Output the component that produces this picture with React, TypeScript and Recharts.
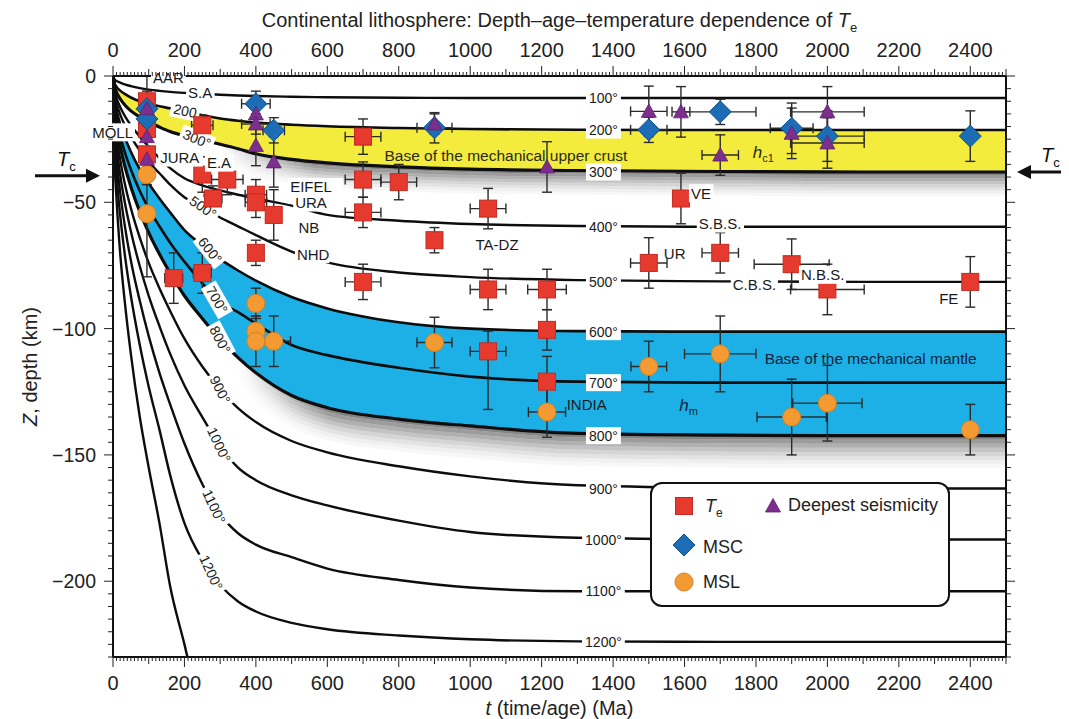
import React from "react";
import {
  ComposedChart,
  Line,
  Area,
  Scatter,
  ErrorBar,
  XAxis,
  YAxis,
  ReferenceDot,
  Legend,
} from "recharts";

const FONT = "'Liberation Sans', Arial, Helvetica, sans-serif";

// isotherm depths (km) at these ages (Ma)
const ages = [0, 5, 10, 20, 35, 50, 75, 100, 130, 160, 200, 250, 300, 350, 400, 500, 600, 800, 1000, 1300, 1700, 2100, 2500];
const iso100 = [0, -1.5, -2, -2.6, -3.4, -4, -4.8, -5.4, -5.9, -6.3, -6.7, -7.1, -7.4, -7.7, -7.9, -8.2, -8.4, -8.6, -8.7, -8.7, -8.7, -8.7, -8.7];
const iso200 = [0, -3, -4.3, -5.8, -7.3, -8.5, -10, -11, -12, -12.8, -13.9, -15.5, -16.8, -17.7, -18.4, -19.3, -19.9, -20.6, -21, -21.3, -21.4, -21.4, -21.4];
const iso300 = [0, -4.5, -6.5, -9, -11.8, -13.8, -16.2, -18.2, -20.2, -22, -23.7, -25.3, -27, -28.8, -30.8, -33, -34.4, -36, -36.9, -37.4, -37.8, -38, -38];
const iso400 = [0, -6, -8.7, -12.3, -16.3, -19.5, -24, -28, -32.5, -36.5, -40.5, -43.3, -45.3, -47, -48.5, -51.3, -55, -57.3, -58.6, -59.4, -59.7, -59.7, -59.7];
const iso500 = [0, -7.5, -10.7, -15.2, -20, -24, -29.5, -34, -38.5, -43, -48, -52, -56, -59.5, -63, -69.5, -73.8, -77.8, -79.6, -80.8, -81.3, -81.5, -81.5];
const iso600 = [0, -9.5, -13.5, -19, -25, -30, -37, -42.5, -48.5, -54, -61, -67, -72.5, -77, -81, -87.5, -92, -97.5, -100, -101, -101.2, -101.2, -101.2];
const iso700 = [0, -12, -16.8, -23.5, -31, -37, -45.5, -52.5, -59.5, -66, -73.5, -82, -89.5, -93.5, -98, -106.5, -110.5, -115.5, -119, -121, -121.4, -121.4, -121.4];
const iso800 = [0, -14, -19.6, -27.7, -36.7, -43.8, -53.7, -62, -70.5, -78, -87, -96, -104.4, -111.5, -117.5, -126.5, -131.3, -135.8, -138.5, -141.5, -142.2, -142.4, -142.4];
const iso900 = [0, -16.5, -23.4, -33, -43.8, -52.3, -64, -74, -84, -93, -104, -115, -124, -131.5, -137, -144.5, -149, -154.5, -158.5, -162, -163, -163.3, -163.3];
const iso1000 = [0, -19.5, -27.5, -39, -51.5, -61.5, -75.3, -87, -99, -110, -122.5, -135, -146.5, -155, -160, -166, -170, -176, -180.5, -182.8, -183.4, -183.5, -183.5];
const iso1100 = [0, -23, -32.6, -46, -61, -73, -89, -103, -117.5, -130, -145.5, -161.5, -173.5, -181, -185.5, -190.5, -195, -199.5, -202.5, -204, -204, -204, -204];
const iso1200 = [0, -27.5, -39, -55, -72.8, -87, -106.5, -123, -140, -158, -177, -191.5, -201.5, -208, -212, -216.5, -219, -221.5, -223, -223.8, -224, -224, -224];
const isoBase = [0, -35, -49, -70, -92, -110, -135, -155, -177, -202, -225, -255, null, null, null, null, null, null, null, null, null, null, null];

const isotherms = [
  { key: "t100", label: "100°", values: iso100, width: 2.4 },
  { key: "t200", label: "200°", values: iso200, width: 2.6 },
  { key: "t300", label: "300°", values: iso300, width: 3.2 },
  { key: "t400", label: "400°", values: iso400, width: 2.4 },
  { key: "t500", label: "500°", values: iso500, width: 2.4 },
  { key: "t600", label: "600°", values: iso600, width: 2.6 },
  { key: "t700", label: "700°", values: iso700, width: 2.6 },
  { key: "t800", label: "800°", values: iso800, width: 3.2 },
  { key: "t900", label: "900°", values: iso900, width: 2.4 },
  { key: "t1000", label: "1000°", values: iso1000, width: 2.4 },
  { key: "t1100", label: "1100°", values: iso1100, width: 2.4 },
  { key: "t1200", label: "1200°", values: iso1200, width: 2.4 },
  { key: "tBase", label: "", values: isoBase, width: 2.4 },
];

// rotated labels on the curved part of the isotherms
const leftLabels = [
  { text: "200", age: 202, depth: -13.8, angle: 12 },
  { text: "300°", age: 235, depth: -24.9, angle: 22 },
  { text: "500°", age: 252, depth: -52, angle: 35 },
  { text: "600°", age: 272, depth: -69, angle: 52 },
  { text: "700°", age: 291, depth: -88.6, angle: 60 },
  { text: "800°", age: 300, depth: -104.4, angle: 62 },
  { text: "900°", age: 300, depth: -124.2, angle: 63 },
  { text: "1000°", age: 297, depth: -146, angle: 65 },
  { text: "1100°", age: 283, depth: -170.5, angle: 65 },
  { text: "1200°", age: 275, depth: -196.6, angle: 65 },
];
const rightLabelAge = 1373;

// Te estimates: age (Ma), depth (km), age error, depth error
const teData = [
  { age: 95, depth: -10, ex: 12, ey: 4 },
  { age: 95, depth: -21, ex: 12, ey: 4 },
  { age: 95, depth: -31, ex: 12, ey: 5 },
  { age: 250, depth: -19.5, ex: 30, ey: 4 },
  { age: 250, depth: -39, ex: 15, ey: 7 },
  { age: 320, depth: -41, ex: 44, ey: 6 },
  { age: 280, depth: -48.5, ex: 25, ey: 5 },
  { age: 400, depth: -47, ex: 30, ey: 6 },
  { age: 400, depth: -50, ex: 30, ey: 6 },
  { age: 450, depth: -55, ex: 20, ey: 10 },
  { age: 400, depth: -70, ex: 20, ey: 5 },
  { age: 170, depth: -80, ex: 25, ey: 10 },
  { age: 250, depth: -78, ex: 25, ey: 8 },
  { age: 700, depth: -24, ex: 50, ey: 7 },
  { age: 700, depth: -41, ex: 50, ey: 7 },
  { age: 800, depth: -42, ex: 50, ey: 7 },
  { age: 700, depth: -54, ex: 50, ey: 6 },
  { age: 1050, depth: -52.5, ex: 50, ey: 8 },
  { age: 900, depth: -65, ex: 0, ey: 5 },
  { age: 700, depth: -81.5, ex: 50, ey: 7 },
  { age: 1050, depth: -84.5, ex: 50, ey: 8 },
  { age: 1215, depth: -84.5, ex: 54, ey: 8 },
  { age: 1215, depth: -100.5, ex: 0, ey: 8 },
  { age: 1215, depth: -121, ex: 0, ey: 10 },
  { age: 1050, depth: -109, ex: 50, ey: [23, 8] },
  { age: 1500, depth: -74, ex: 51, ey: 10 },
  { age: 1590, depth: -48.5, ex: 0, ey: 10 },
  { age: 1700, depth: -70, ex: 51, ey: 8 },
  { age: 1900, depth: -74.5, ex: 105, ey: 10 },
  { age: 2000, depth: -84.5, ex: 103, ey: 10 },
  { age: 2400, depth: -81.5, ex: 0, ey: 10 },
];

const mscData = [
  { age: 95, depth: -13, ex: 12, ey: 13 },
  { age: 95, depth: -17, ex: 12, ey: 4 },
  { age: 400, depth: -11, ex: 40, ey: 5 },
  { age: 450, depth: -21.5, ex: 30, ey: 5 },
  { age: 900, depth: -20.5, ex: 49, ey: 6 },
  { age: 1500, depth: -21.3, ex: 51, ey: 5 },
  { age: 1700, depth: -14.2, ex: 100, ey: 5 },
  { age: 1900, depth: -20.7, ex: 60, ey: 10 },
  { age: 2000, depth: -23.8, ex: 103, ey: 10 },
  { age: 2400, depth: -23.8, ex: 0, ey: 10 },
];

const seismData = [
  { age: 95, depth: -13, ex: 0, ey: 4 },
  { age: 95, depth: -24, ex: 0, ey: 4 },
  { age: 95, depth: -33, ex: 0, ey: 4 },
  { age: 400, depth: -15, ex: 0, ey: 6 },
  { age: 400, depth: -19, ex: 40, ey: 4 },
  { age: 400, depth: -27.5, ex: 0, ey: 8 },
  { age: 450, depth: -34, ex: 0, ey: 10 },
  { age: 900, depth: -19, ex: 0, ey: 4 },
  { age: 1215, depth: -36, ex: 0, ey: 10 },
  { age: 1500, depth: -14, ex: 51, ey: 10 },
  { age: 1590, depth: -14.2, ex: 25, ey: 10 },
  { age: 1700, depth: -31.3, ex: 51, ey: 8 },
  { age: 1900, depth: -22.7, ex: 0, ey: 10 },
  { age: 2000, depth: -14.2, ex: 103, ey: 10 },
  { age: 2000, depth: -26.5, ex: 103, ey: 10 },
];

const mslData = [
  { age: 95, depth: -39, ex: 0, ey: 4 },
  { age: 95, depth: -54.5, ex: 0, ey: 25 },
  { age: 400, depth: -90, ex: 0, ey: 6 },
  { age: 400, depth: -101, ex: 0, ey: 6 },
  { age: 400, depth: -105, ex: 0, ey: 10 },
  { age: 450, depth: -105, ex: 47, ey: 10 },
  { age: 900, depth: -105.5, ex: 49, ey: 10 },
  { age: 1215, depth: -133, ex: 52, ey: 10 },
  { age: 1500, depth: -115, ex: 50, ey: 10 },
  { age: 1700, depth: -110, ex: 100, ey: 15 },
  { age: 1900, depth: -135, ex: 97, ey: 15 },
  { age: 2000, depth: -129.5, ex: 97, ey: 15 },
  { age: 2400, depth: -140, ex: 0, ey: 10 },
];

const sites = [
  { name: "AAR", age: 112, depth: -0.5, anchor: "start", bg: true },
  { name: "S.A", age: 210, depth: -6.7, anchor: "start", bg: true },
  { name: "MOLL", age: 56, depth: -22.3, anchor: "end", bg: true },
  { name: "JURA", age: 132, depth: -32.3, anchor: "start", bg: true },
  { name: "E.A", age: 263, depth: -34.3, anchor: "start", bg: true },
  { name: "EIFEL", age: 496, depth: -43.9, anchor: "start", bg: true },
  { name: "URA", age: 510, depth: -50.1, anchor: "start", bg: true },
  { name: "NB", age: 519, depth: -60, anchor: "start", bg: false },
  { name: "NHD", age: 515, depth: -70.5, anchor: "start", bg: true },
  { name: "TA-DZ", age: 1015, depth: -66.8, anchor: "start", bg: false },
  { name: "VE", age: 1618, depth: -46.4, anchor: "start", bg: true },
  { name: "S.B.S.", age: 1640, depth: -58.4, anchor: "start", bg: true },
  { name: "UR", age: 1542, depth: -70.3, anchor: "start", bg: false },
  { name: "C.B.S.", age: 1735, depth: -82.7, anchor: "start", bg: true },
  { name: "N.B.S.", age: 1926, depth: -78.7, anchor: "start", bg: true },
  { name: "FE", age: 2313, depth: -88.2, anchor: "start", bg: false },
  { name: "INDIA", age: 1270, depth: -130, anchor: "start", bg: false },
];

const majorXTicks = [0, 200, 400, 600, 800, 1000, 1200, 1400, 1600, 1800, 2000, 2200, 2400];
const majorYTicks = [0, -50, -100, -150, -200];
const xTicks = Array.from({ length: 251 }, (_, i) => i * 10);
const yTicks = Array.from({ length: 47 }, (_, i) => -230 + i * 5);

// soft shadow under the two bands, drawn as thin stacked layers
const shadeLayers = [0, 1, 2, 3, 4, 5, 6, 7];
const shadeOpacity = [0.62, 0.5, 0.4, 0.3, 0.21, 0.14, 0.08, 0.04];

const isoTable = ages.map((age, i) => {
  const row: any = { age };
  isotherms.forEach((iso) => (row[iso.key] = iso.values[i]));
  row.crust = [iso300[i], iso200[i]];
  row.mantle = [iso800[i], iso600[i]];
  shadeLayers.forEach((k) => {
    row[`cs${k}`] = age >= 300 ? [iso300[i] - 1.2 * (k + 1), iso300[i] - 1.2 * k] : null;
    row[`ms${k}`] = age >= 350 ? [iso800[i] - 1.6 * (k + 1), iso800[i] - 1.6 * k] : null;
  });
  return row;
});

const charW = (c: string) =>
  c === "." ? 0.28 : c === "-" ? 0.33 : c === "°" ? 0.4 : /[0-9]/.test(c) ? 0.556 : /[A-Z]/.test(c) ? 0.68 : 0.5;
const textWidth = (s: string, fs: number) => s.split("").reduce((w, c) => w + charW(c) * fs, 0);
const fmtY = (v: number) => (v < 0 ? `\u2212${-v}` : `${v}`);

const BottomTick = ({ x, y, payload }: any) => {
  const v = payload.value;
  const len = v % 200 === 0 ? 10 : v % 100 === 0 ? 7 : 4;
  return (
    <g>
      <line x1={x} x2={x} y1={y} y2={y + len} stroke="#222" strokeWidth={1} />
      {majorXTicks.includes(v) && (
        <text x={x} y={y + 33} textAnchor="middle" fontSize={20} fontFamily={FONT} fill="#222">{v}</text>
      )}
    </g>
  );
};

const TopTick = ({ x, y, payload }: any) => {
  const v = payload.value;
  const len = v % 200 === 0 ? 10 : v % 100 === 0 ? 7 : 4;
  return (
    <g>
      <line x1={x} x2={x} y1={y} y2={y - len} stroke="#222" strokeWidth={1} />
      {majorXTicks.includes(v) && (
        <text x={x} y={y - 19} textAnchor="middle" fontSize={20} fontFamily={FONT} fill="#222">{v}</text>
      )}
    </g>
  );
};

const LeftTick = ({ x, y, payload }: any) => {
  const v = payload.value;
  const major = majorYTicks.includes(v);
  return (
    <g>
      <line x1={x} x2={x - (major ? 9 : 5)} y1={y} y2={y} stroke="#222" strokeWidth={1} />
      {major && (
        <text x={x - 17} y={y + 7} textAnchor="end" fontSize={19.5} fontFamily={FONT} fill="#222">{fmtY(v)}</text>
      )}
    </g>
  );
};

const RightTick = ({ x, y, payload }: any) => {
  const major = majorYTicks.includes(payload.value);
  return <line x1={x} x2={x + (major ? 9 : 5)} y1={y} y2={y} stroke="#222" strokeWidth={1} />;
};

const renderTitle = (props: any) => {
  const { x, width } = props.viewBox;
  return (
    <text x={x + width / 2} y={19} textAnchor="middle" fontSize={20} fontFamily={FONT} fill="#222">
      Continental lithosphere: Depth–age–temperature dependence of <tspan fontStyle="italic">T</tspan>
      <tspan fontSize={13} dy={5}>e</tspan>
    </text>
  );
};

const renderXLabel = (props: any) => {
  const { x, width } = props.viewBox;
  return (
    <text x={x + width / 2} y={707} textAnchor="middle" fontSize={20} fontFamily={FONT} fill="#222">
      <tspan fontStyle="italic">t</tspan> (time/age) (Ma)
    </text>
  );
};

const renderYLabel = (props: any) => {
  const { y, height } = props.viewBox;
  const cy = y + height / 2;
  return (
    <text x={29} y={cy} transform={`rotate(-90 29 ${cy})`} textAnchor="middle" fontSize={20} fontFamily={FONT} fill="#222">
      <tspan fontStyle="italic">Z</tspan>, depth (km)
    </text>
  );
};

const Square = ({ cx, cy }: any) => (
  <rect x={cx - 8.5} y={cy - 8.5} width={17} height={17} fill="#e63a2e" stroke="#c32a21" strokeWidth={1} />
);
const Diamond = ({ cx, cy }: any) => (
  <polygon points={`${cx},${cy - 11} ${cx + 11},${cy} ${cx},${cy + 11} ${cx - 11},${cy}`} fill="#1d6db6" stroke="#12508a" strokeWidth={1} />
);
const Triangle = ({ cx, cy }: any) => (
  <polygon points={`${cx},${cy - 7.5} ${cx + 7.5},${cy + 6} ${cx - 7.5},${cy + 6}`} fill="#7d2f8e" stroke="#5e1f6c" strokeWidth={0.8} />
);
const Circle = ({ cx, cy }: any) => <circle cx={cx} cy={cy} r={9} fill="#f39a33" stroke="#d98122" strokeWidth={1} />;

const siteShape = (s: any) => (p: any) => {
  const w = textWidth(s.name, 15) + 4;
  const left = s.anchor === "end" ? p.cx - w + 2 : p.cx - 2;
  return (
    <g>
      {s.bg && <rect x={left} y={p.cy - 9} width={w} height={18} fill="#fff" />}
      <text x={p.cx} y={p.cy + 5.5} textAnchor={s.anchor} fontSize={15} fontFamily={FONT} fill="#1a1a1a">{s.name}</text>
    </g>
  );
};

const isoLabelShape = (text: string, angle: number) => (p: any) => {
  const w = textWidth(text, 14) + 6;
  return (
    <g transform={`translate(${p.cx},${p.cy}) rotate(${angle})`}>
      <rect x={-w / 2} y={-8.5} width={w} height={17} fill="#fff" />
      <text x={0} y={5} textAnchor="middle" fontSize={14} fontFamily={FONT} fill="#1a1a1a">{text}</text>
    </g>
  );
};

const bandText = (text: string, color: string) => (p: any) => (
  <text x={p.cx} y={p.cy + 5.5} textAnchor="middle" fontSize={15.5} fontFamily={FONT} fill={color}>{text}</text>
);

const italicSub = (main: string, sub: string, color: string) => (p: any) => (
  <text x={p.cx} y={p.cy + 5} fontSize={17} fontFamily={FONT} fill={color}>
    <tspan fontStyle="italic">{main}</tspan>
    <tspan fontSize={11} dy={4}>{sub}</tspan>
  </text>
);

const leftArrow = (p: any) => (
  <g>
    <line x1={p.cx - 78} x2={p.cx - 24} y1={p.cy} y2={p.cy} stroke="#111" strokeWidth={3} />
    <polygon points={`${p.cx - 13},${p.cy} ${p.cx - 27},${p.cy - 7} ${p.cx - 27},${p.cy + 7}`} fill="#111" />
    <text x={p.cx - 56} y={p.cy - 10} fontSize={20} fontFamily={FONT} fill="#111">
      <tspan fontStyle="italic">T</tspan>
      <tspan fontSize={13} dy={5}>c</tspan>
    </text>
  </g>
);

const rightArrow = (p: any) => (
  <g>
    <line x1={p.cx + 24} x2={p.cx + 63} y1={p.cy} y2={p.cy} stroke="#111" strokeWidth={3} />
    <polygon points={`${p.cx + 11},${p.cy} ${p.cx + 25},${p.cy - 7} ${p.cx + 25},${p.cy + 7}`} fill="#111" />
    <text x={p.cx + 35} y={p.cy - 10} fontSize={20} fontFamily={FONT} fill="#111">
      <tspan fontStyle="italic">T</tspan>
      <tspan fontSize={13} dy={5}>c</tspan>
    </text>
  </g>
);

const icon = (shape: React.ReactNode) => (
  <svg width={24} height={24} style={{ position: "absolute", left: -12, top: -12 }}>{shape}</svg>
);

const LegendBox = () => (
  <div
    style={{
      width: 300,
      height: 125,
      boxSizing: "border-box",
      border: "2.5px solid #111",
      borderRadius: 12,
      background: "#fff",
      position: "relative",
      fontFamily: FONT,
      fontSize: 18,
      color: "#222",
    }}
  >
    <div style={{ position: "absolute", left: 32, top: 22 }}>{icon(<Square cx={12} cy={12} />)}</div>
    <div style={{ position: "absolute", left: 53, top: 11, lineHeight: "22px" }}>
      <i>T</i>
      <sub style={{ fontSize: 12 }}>e</sub>
    </div>
    <div style={{ position: "absolute", left: 121, top: 22 }}>{icon(<Triangle cx={12} cy={12} />)}</div>
    <div style={{ position: "absolute", left: 136, top: 10, lineHeight: "22px" }}>Deepest seismicity</div>
    <div style={{ position: "absolute", left: 32, top: 61 }}>{icon(<Diamond cx={12} cy={12} />)}</div>
    <div style={{ position: "absolute", left: 51, top: 52, lineHeight: "22px" }}>MSC</div>
    <div style={{ position: "absolute", left: 32, top: 98 }}>{icon(<Circle cx={12} cy={12} />)}</div>
    <div style={{ position: "absolute", left: 51, top: 87, lineHeight: "22px" }}>MSL</div>
  </div>
);

const errorBars = [
  <ErrorBar key="x" dataKey="ex" direction="x" width={5} stroke="#2b2b2b" strokeWidth={1.4} />,
  <ErrorBar key="y" dataKey="ey" direction="y" width={5} stroke="#2b2b2b" strokeWidth={1.4} />,
];

export default function App() {
  return (
    <div style={{ width: 1061, height: 711 }}>
      <ComposedChart
        width={1061}
        height={711}
        data={isoTable}
        margin={{ top: 30, right: 53, bottom: 22, left: 45 }}
      >
        <defs>
          <linearGradient id="fadeX" x1="0" y1="0" x2="1" y2="0">
            <stop offset="0" stopColor="#3a3a3a" stopOpacity={0} />
            <stop offset="0.12" stopColor="#3a3a3a" stopOpacity={1} />
            <stop offset="1" stopColor="#3a3a3a" stopOpacity={1} />
          </linearGradient>
        </defs>
        <XAxis
          dataKey="age"
          type="number"
          domain={[0, 2500]}
          ticks={xTicks}
          interval={0}
          allowDataOverflow
          tick={BottomTick}
          tickLine={false}
          tickSize={0}
          tickMargin={0}
          axisLine={{ stroke: "#111", strokeWidth: 2 }}
          height={40}
          label={renderXLabel}
        />
        <XAxis
          xAxisId="top"
          orientation="top"
          dataKey="age"
          type="number"
          domain={[0, 2500]}
          ticks={xTicks}
          interval={0}
          allowDataOverflow
          tick={TopTick}
          tickLine={false}
          tickSize={0}
          tickMargin={0}
          axisLine={{ stroke: "#111", strokeWidth: 2 }}
          height={38}
          label={renderTitle}
        />
        <YAxis
          type="number"
          domain={[-230, 0]}
          ticks={yTicks}
          interval={0}
          allowDataOverflow
          tick={LeftTick}
          tickLine={false}
          tickSize={0}
          tickMargin={0}
          axisLine={{ stroke: "#111", strokeWidth: 2 }}
          width={60}
          label={renderYLabel}
        />
        <YAxis
          yAxisId="right"
          orientation="right"
          type="number"
          domain={[-230, 0]}
          ticks={yTicks}
          interval={0}
          allowDataOverflow
          tick={RightTick}
          tickLine={false}
          tickSize={0}
          tickMargin={0}
          axisLine={{ stroke: "#111", strokeWidth: 2 }}
          width={10}
        />

        {shadeLayers.map((k) => (
          <Area key={`cs${k}`} dataKey={`cs${k}`} type="monotone" stroke="none" fill="url(#fadeX)" fillOpacity={shadeOpacity[k]} isAnimationActive={false} activeDot={false} />
        ))}
        {shadeLayers.map((k) => (
          <Area key={`ms${k}`} dataKey={`ms${k}`} type="monotone" stroke="none" fill="url(#fadeX)" fillOpacity={shadeOpacity[k]} isAnimationActive={false} activeDot={false} />
        ))}
        <Area dataKey="crust" type="monotone" stroke="none" fill="#f3ec3c" fillOpacity={1} isAnimationActive={false} activeDot={false} />
        <Area dataKey="mantle" type="monotone" stroke="none" fill="#1cb0e6" fillOpacity={1} isAnimationActive={false} activeDot={false} />

        {isotherms.map((iso) => (
          <Line
            key={iso.key}
            dataKey={iso.key}
            type="monotone"
            stroke="#0d0d0d"
            strokeWidth={iso.width}
            dot={false}
            activeDot={false}
            isAnimationActive={false}
          />
        ))}

        {isotherms
          .filter((iso) => iso.label)
          .map((iso) => (
            <ReferenceDot
              key={`r-${iso.key}`}
              x={rightLabelAge}
              y={iso.values[iso.values.length - 1] as number}
              r={0}
              ifOverflow="visible"
              shape={isoLabelShape(iso.label, 0)}
            />
          ))}
        {leftLabels.map((l) => (
          <ReferenceDot key={`l-${l.text}`} x={l.age} y={l.depth} r={0} ifOverflow="visible" shape={isoLabelShape(l.text, l.angle)} />
        ))}

        <ReferenceDot x={1100} y={-31.4} r={0} shape={bandText("Base of the mechanical upper crust", "#2a2a1a")} />
        <ReferenceDot x={2121} y={-112} r={0} shape={bandText("Base of the mechanical mantle", "#0f2238")} />
        <ReferenceDot x={1791} y={-30.6} r={0} shape={italicSub("h", "c1", "#2a2a1a")} />
        <ReferenceDot x={1585} y={-130.5} r={0} shape={italicSub("h", "m", "#0f2238")} />

        <Scatter data={mslData} dataKey="depth" shape={Circle} isAnimationActive={false}>{errorBars}</Scatter>
        <Scatter data={teData} dataKey="depth" shape={Square} isAnimationActive={false}>{errorBars}</Scatter>
        <Scatter data={mscData} dataKey="depth" shape={Diamond} isAnimationActive={false}>{errorBars}</Scatter>
        <Scatter data={seismData} dataKey="depth" shape={Triangle} isAnimationActive={false}>{errorBars}</Scatter>

        {sites.map((s) => (
          <ReferenceDot key={s.name} x={s.age} y={s.depth} r={0} ifOverflow="visible" shape={siteShape(s)} />
        ))}

        <ReferenceDot x={0} y={-39.5} r={0} ifOverflow="visible" shape={leftArrow} />
        <ReferenceDot x={2500} y={-38} r={0} ifOverflow="visible" shape={rightArrow} />

        <Legend
          content={() => <LegendBox />}
          layout="horizontal"
          verticalAlign="middle"
          align="center"
          wrapperStyle={{ left: 642, top: 474, width: 300, height: 125 }}
        />
      </ComposedChart>
    </div>
  );
}
